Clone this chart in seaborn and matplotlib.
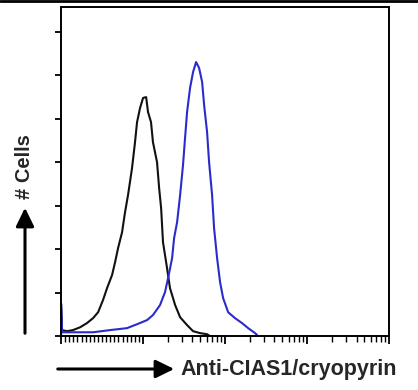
import matplotlib
matplotlib.use("Agg")
import matplotlib.pyplot as plt
from matplotlib.ticker import NullFormatter
import numpy as np
import pandas as pd
import seaborn as sns

# isotype control (black) - channel value / cell count
ctrl_x = [1.0, 1.0, 1.03, 1.18, 1.40, 1.71, 2.07, 2.46, 2.83, 3.25, 3.64, 4.19, 4.56, 4.96,
          5.55, 6.03, 6.56, 7.34, 7.98, 8.45, 9.19, 10.0, 10.9, 11.5, 12.5, 13.2, 14.8,
          15.7, 16.6, 17.5, 19.6, 21.3, 24.6, 28.3, 34.4, 40.7, 49.6, 60.3, 65.6]
ctrl_y = [0, 15, 2.8, 2.3, 2.8, 4.1, 6.0, 8.3, 11.0, 16.6, 22.1, 28.1, 34.0, 40.5,
          47.8, 57.0, 64.9, 77.3, 89.2, 98.4, 104.9, 109.5, 109.9, 103.0, 98.4, 89.2, 80.0,
          68.1, 58.9, 43.2, 31.3, 22.1, 14.3, 8.7, 5.1, 2.3, 1.4, 0.9, 0]

# anti-CIAS1 (blue)
ab_x = [1.0, 1.0, 1.03, 1.57, 2.46, 3.96, 6.38, 8.45, 11.2, 13.2, 16.1, 18.5, 20.2, 22.6,
        23.9, 26.0, 28.3, 30.7, 32.5, 34.4, 37.4, 40.7, 44.3, 48.2, 52.5, 55.5, 60.3,
        63.8, 69.4, 73.4, 79.9, 86.9, 94.6, 109, 132, 161, 191, 232, 246]
ab_y = [0, 15, 1.8, 1.8, 1.8, 2.8, 3.7, 5.5, 7.4, 9.7, 14.3, 20.2, 26.7, 35.9,
        45.1, 52.4, 64.9, 78.7, 91.1, 103.0, 114.1, 121.4, 126.0, 123.3, 116.8, 106.3, 93.8,
        80.0, 64.9, 49.7, 35.9, 24.8, 17.5, 11.0, 8.3, 6.0, 3.7, 1.4, 0.5]

df = pd.concat([
    pd.DataFrame({"channel": ctrl_x, "cells": ctrl_y, "sample": "control"}),
    pd.DataFrame({"channel": ab_x, "cells": ab_y, "sample": "antibody"}),
])

sns.set_style("white")
plt.rcParams['font.family'] = ['Liberation Sans', 'DejaVu Sans']

fig = plt.figure(figsize=(4.18, 3.90), dpi=100)
ax = fig.add_axes([0.146, 0.138, 0.785, 0.844])

sns.lineplot(data=df, x="channel", y="cells", hue="sample", units="sample",
             estimator=None, sort=False, palette={"control": "#111111", "antibody": "#2b2bcc"},
             linewidth=1.5, legend=False, ax=ax)

ax.set_xscale("log")
ax.set_xlim(1, 10000)
ax.set_ylim(0, 151.3)
ax.set_yticks(np.arange(0, 141, 20))
ax.set_xticks([1, 10, 100, 1000, 10000])
minor = list(10 ** np.linspace(0, 1, 21)[1:-1])
for dec in [10, 100, 1000]:
    minor += [dec * k for k in range(2, 10)]
ax.set_xticks(minor, minor=True)
ax.xaxis.set_major_formatter(NullFormatter())
ax.xaxis.set_minor_formatter(NullFormatter())
ax.set_yticklabels([])
ax.tick_params(axis="x", which="major", direction="out", length=6, width=1.3, color="black", bottom=True)
ax.tick_params(axis="x", which="minor", direction="out", length=4, width=1.0, color="black", bottom=True)
ax.tick_params(axis="y", direction="out", length=4.5, width=1.3, color="black", left=True)
ax.set_xlabel("")
ax.set_ylabel("")
for s in ax.spines.values():
    s.set_color("black")
    s.set_linewidth(1.4)

# outer frame line at the top of the image
fig.add_artist(plt.Line2D([0, 1], [0.997, 0.997], color="black", lw=2, transform=fig.transFigure))

# axis arrows and titles
fig.add_artist(matplotlib.patches.FancyArrowPatch((25 / 418, 1 - 336 / 390), (25 / 418, 1 - 205 / 390),
               transform=fig.transFigure, arrowstyle="-|>,head_length=4.5,head_width=2.2",
               color="black", lw=2.2, mutation_scale=2.5))
fig.text(25 / 418, 1 - 167 / 390, "# Cells", rotation=90, ha="center", va="center",
         fontsize=14.5, fontweight="bold")
fig.add_artist(matplotlib.patches.FancyArrowPatch((55 / 418, 1 - 369 / 390), (177 / 418, 1 - 369 / 390),
               transform=fig.transFigure, arrowstyle="-|>,head_length=4.5,head_width=2.2",
               color="black", lw=2.2, mutation_scale=2.5))
fig.text(180 / 418, 1 - 369 / 390, "Anti-CIAS1/cryopyrin", ha="left", va="center",
         fontsize=15.5, fontweight="bold")

fig.savefig("out.png", dpi=100)
